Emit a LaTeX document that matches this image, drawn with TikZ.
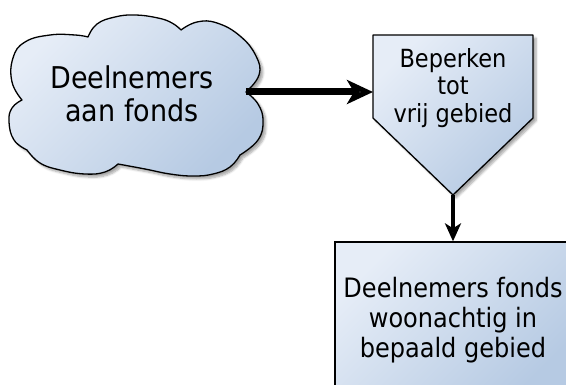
\documentclass[tikz,border=0pt]{standalone}
\usepackage{fontspec}
\setmainfont{DejaVu Sans Condensed}
\usetikzlibrary{arrows.meta,shadows.blur}
\definecolor{fillA}{HTML}{E6EDF7}
\definecolor{fillB}{HTML}{B6CAE3}
\tikzset{
  shapefill/.style={draw=black, line width=1.3pt, line join=round, top color=fillA, bottom color=fillB, shading angle=45,
    blur shadow={shadow xshift=3pt, shadow yshift=-3pt, shadow blur steps=6, shadow opacity=35}},
  bigarrow/.style={line width=7pt, -{Stealth[length=26pt, width=24pt, inset=7pt]}},
  smallarrow/.style={line width=3.8pt, -{Stealth[length=18pt, width=16pt, inset=5pt]}},
  lbl/.style={align=center, text=black, inner sep=0pt},
  lobe/.style={smooth, tension=0.75},
}
\begin{document}
\begin{tikzpicture}[x=1pt, y=-1pt]
\useasboundingbox (0,0) rectangle (566,385);
% cloud
\path[shapefill] (22,100)
  -- plot[lobe] coordinates {(22,100) (12,82) (13,58) (25,42) (50,35) (75,35) (88,37)}
  -- plot[lobe] coordinates {(88,37) (97,24) (115,17) (135,15) (158,18) (172,23) (181,30)}
  -- plot[lobe] coordinates {(181,30) (197,22) (217,23) (240,36) (256,56) (259,75) (246,92)}
  -- plot[lobe] coordinates {(246,92) (258,104) (263,121) (258,140) (240,155)}
  -- plot[lobe] coordinates {(240,155) (230,167) (213,174) (193,176) (170,174) (145,169) (118,164)}
  -- plot[lobe] coordinates {(118,164) (105,172) (85,174) (60,170) (40,163) (27,150)}
  -- plot[lobe] coordinates {(27,150) (14,140) (9,122) (12,108) (22,100)}
  -- cycle;
\coordinate (cloudR) at (246,92);
\node[lbl, font=\fontsize{30}{33}\selectfont] (cloudtxt) at (132,94) {Deelnemers\\aan fonds};
% pentagon
\path[shapefill] (373,35) -- (533,35) -- (533,118) -- (453,195) -- (373,118) -- cycle;
\coordinate (pin) at (373,92);
\coordinate (ptip) at (453,195);
\node[lbl, font=\fontsize{25}{27.5}\selectfont] (pent) at (453,88) {Beperken\\tot\\vrij gebied};
% bottom box
\node[draw=black, line width=1.3pt, top color=fillA, bottom color=fillB, shading angle=45,
  blur shadow={shadow xshift=3pt, shadow yshift=-3pt, shadow blur steps=6, shadow opacity=35},
  minimum width=236pt, minimum height=156pt, inner sep=0pt] (box) at (453,320) {};
\node[lbl, font=\fontsize{26.7}{30}\selectfont] (boxtxt) at (453,320) {Deelnemers fonds\\woonachtig in\\bepaald gebied};
% connectors
\draw[bigarrow] (cloudR) -- (pin);
\draw[smallarrow] (ptip) -- (box.north);
\end{tikzpicture}
\end{document}
